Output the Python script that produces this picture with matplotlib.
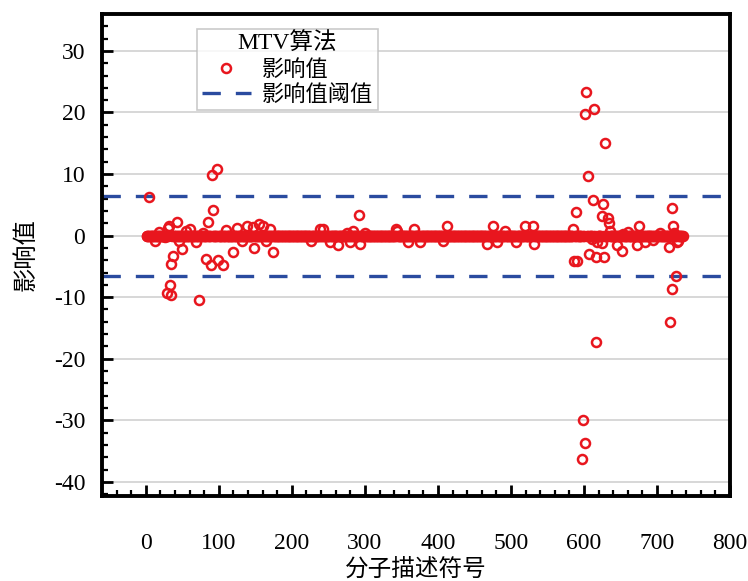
import numpy as np
import matplotlib
matplotlib.use("Agg")
import matplotlib.pyplot as plt
from matplotlib.ticker import MultipleLocator

plt.rcParams['font.family'] = ['Liberation Serif', 'Noto Sans CJK SC']
plt.rcParams['axes.unicode_minus'] = False

# number of molecular descriptors (band ends near 735)
n_descriptors = 735

# clearly separated points (descriptor index, influence value)
outlier_x = [5, 34, 90, 97, 89, 99, 92, 43, 85, 37, 35, 49, 82, 82, 89, 99, 105, 119,
             148, 174, 29, 33, 34, 73, 292, 155, 147,
             599, 603, 602, 614, 629, 605, 612, 616, 626, 634, 590, 589, 720,
             625, 633, 634, 607, 722, 675, 590, 586, 607, 617, 628, 652, 645,
             672, 716, 728, 726, 721, 718, 616, 599, 601, 597]
outlier_y = [6.2, 14.3, 9.9, 10.8, 5.2, 5.6, 4.1, 2.2, 2.2, -3.3, -4.6, -2.1, -2.4, -3.8, -4.8, -4.0, -4.8, -2.7,
             -2.0, -2.7, -9.3, -8.0, -9.6, -10.5, 3.4, 1.9, 1.4,
             29.8, 23.3, 19.8, 20.6, 15.1, 9.6, 5.8, 5.8, 5.2, 5.5, 4.2, 3.9, 4.4,
             3.1, 2.9, 2.1, 1.6, 1.6, 1.6, -4.1, -4.1, -3.0, -3.4, -3.5, -2.5, -1.6,
             -1.6, -1.8, -1.0, -6.5, -8.6, -14.0, -17.3, -30.0, -33.7, -36.3]

# small scatter around the zero band
small_x = [30, 32, 60, 138, 26, 12, 18, 45, 55, 68, 78, 110, 125, 132, 160, 165, 170,
           174, 238, 243, 263, 275, 284, 293, 279, 252, 226, 344, 300,
           342, 359, 367, 375, 407, 412, 467, 475, 481, 492, 507, 519, 530, 531,
           585, 599, 611, 618, 624, 635, 653, 684, 704, 723, 727, 729, 660, 695]
small_y = [1.3, 1.5, 1.0, 1.5, -0.3, -0.8, 0.6, -0.9, 0.8, -1.0, 0.5, 0.9, 1.2, -0.9, 1.6, -0.8, 1.0,
           0.7, 1.1, 1.1, -1.5, 0.5, 0.7, -1.3, -1.1, -1.1, -0.8, 0.8, 0.5,
           1.1, -1.0, 1.1, -1.1, -0.9, 1.6, -1.3, 1.6, -1.1, 0.8, -1.0, 1.5, 1.5, -1.3,
           1.0, -0.5, -0.6, -1.1, -1.2, 0.7, 0.2, -1.1, 0.5, 0.5, -0.1, -0.9, 0.6, -0.7]

threshold = 6.5

descriptor = np.arange(1, n_descriptors + 1)
influence = np.zeros(n_descriptors)
influence[np.array(small_x) - 1] = small_y
influence[np.array(outlier_x) - 1] = outlier_y

red = '#e8161e'
blue = '#2a4b9f'

fig = plt.figure(figsize=(7.48, 5.81), dpi=100)
ax = fig.add_axes([0.1364, 0.1463, 0.8396, 0.8297])

ax.plot(descriptor, influence, linestyle='none', marker='o', markersize=6.5,
        markerfacecolor='none', markeredgecolor=red, markeredgewidth=1.8,
        label='影响值', zorder=3)
ax.axhline(threshold, color=blue, lw=2.4, dashes=(5.5, 4.5), label='影响值阈值', zorder=2)
ax.axhline(-threshold, color=blue, lw=2.4, dashes=(5.5, 4.5), zorder=2)

ax.set_xlim(-60, 800)
ax.set_ylim(-42.3, 36)
ax.xaxis.set_minor_locator(MultipleLocator(20))
ax.yaxis.set_minor_locator(MultipleLocator(2))
ax.set_xticks(np.arange(0, 801, 100))
ax.set_yticks(np.arange(-40, 31, 10))

ax.grid(axis='y', which='major', color='#d4d4d4', lw=1.3, zorder=0)
ax.set_axisbelow(True)

for s in ax.spines.values():
    s.set_linewidth(2.8)
    s.set_color('black')

ax.tick_params(axis='both', which='both', direction='in', top=False, right=False,
               width=2.0, labelsize=17)
ax.tick_params(axis='x', which='major', length=8, pad=27)
ax.tick_params(axis='y', which='major', length=8, pad=12)
ax.tick_params(axis='both', which='minor', length=4, width=1.6)

ax.set_xlabel('分子描述符号', fontsize=17, va='center')
ax.xaxis.set_label_coords(0.5, -0.153)
ax.set_ylabel('影响值', fontsize=17.5, labelpad=12)

leg = ax.legend(title='MTV算法', loc='upper left', bbox_to_anchor=(0.152, 0.969),
                fontsize=16, title_fontsize=17, frameon=True, fancybox=False,
                edgecolor='#bdbdbd', handlelength=2.2, borderpad=0.2,
                labelspacing=0.2, handletextpad=0.5, borderaxespad=0)
leg.get_frame().set_linewidth(1.2)

fig.savefig('out.png', dpi=100)
